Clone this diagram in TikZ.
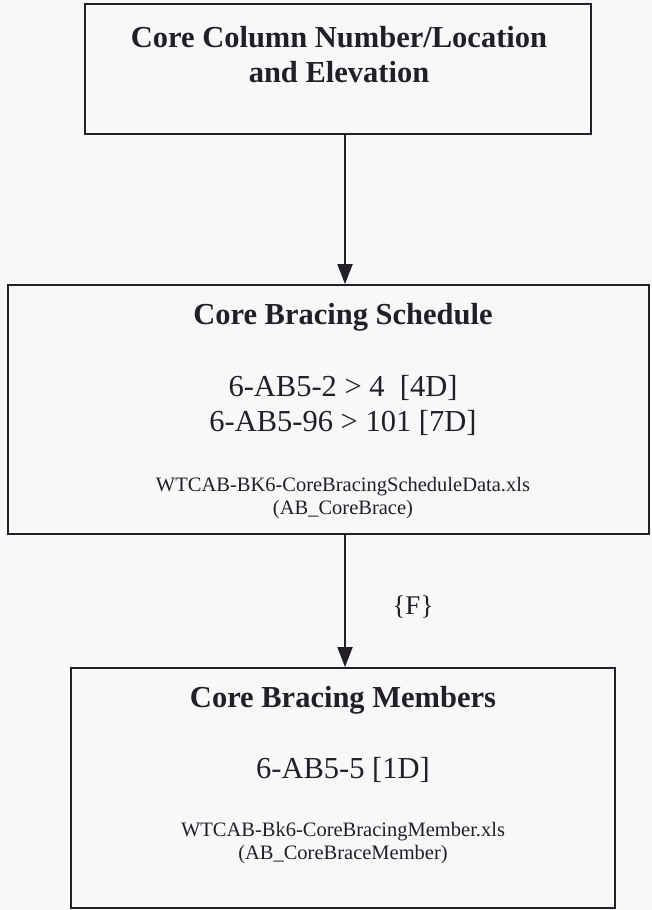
\documentclass[tikz,border=0pt]{standalone}
\usepackage{fontspec}
\setmainfont{Liberation Serif}
\usetikzlibrary{arrows.meta}
\definecolor{ink}{RGB}{35,31,36}
\definecolor{paper}{RGB}{248,248,251}
\begin{document}
\begin{tikzpicture}[x=1pt,y=1pt,
  flowbox/.style={draw=ink,line width=1.8pt,rectangle,inner sep=0pt},
  headtext/.style={text=ink,font=\fontsize{30.5}{35}\selectfont\bfseries,align=center},
  codetext/.style={text=ink,font=\fontsize{30.5}{35}\selectfont,align=center},
  filetext/.style={text=ink,font=\fontsize{20.5}{23.5}\selectfont,align=center},
  flowarrow/.style={draw=ink,line width=1.8pt,-{Triangle[width=15pt,length=20pt]}}]
  \useasboundingbox (0,0) rectangle (652,-910);
  \clip (0,0) rectangle (652,-910);
  \fill[paper] (0,0) rectangle (652,-910);

  % the three boxes of the chain
  \node[flowbox,minimum width=506pt,minimum height=130pt] (colbox) at (338,-69) {};
  \node[flowbox,minimum width=641pt,minimum height=249pt] (schedbox) at (328.5,-409.5) {};
  \node[flowbox,minimum width=544pt,minimum height=240pt] (membox) at (343,-788) {};

  % box texts
  \node[headtext] (coltitle) at (339,-55) {Core Column Number/Location\\and Elevation};

  \node[headtext] (schedtitle) at (343,-317) {Core Bracing Schedule};
  \node[codetext] (schedcodes) at (343,-405) {6-AB5-2 > 4\ \ [4D]\\6-AB5-96 > 101 [7D]};
  \node[filetext] (schedfile) at (343,-498) {WTCAB-BK6-CoreBracingScheduleData.xls\\(AB\_CoreBrace)};

  \node[headtext] (memtitle) at (343,-700) {Core Bracing Members};
  \node[codetext] (memcodes) at (343,-770) {6-AB5-5 [1D]};
  \node[filetext] (memfile) at (343,-843) {WTCAB-Bk6-CoreBracingMember.xls\\(AB\_CoreBraceMember)};

  % connectors
  \coordinate (linkx) at (345,0);
  \draw[flowarrow] (linkx |- colbox.south) -- (linkx |- schedbox.north);
  \draw[flowarrow] (linkx |- schedbox.south) -- (linkx |- membox.north);
  \node[codetext,font=\fontsize{27}{30}\selectfont] (flabel) at (413,-607) {\{F\}};
\end{tikzpicture}
\end{document}
